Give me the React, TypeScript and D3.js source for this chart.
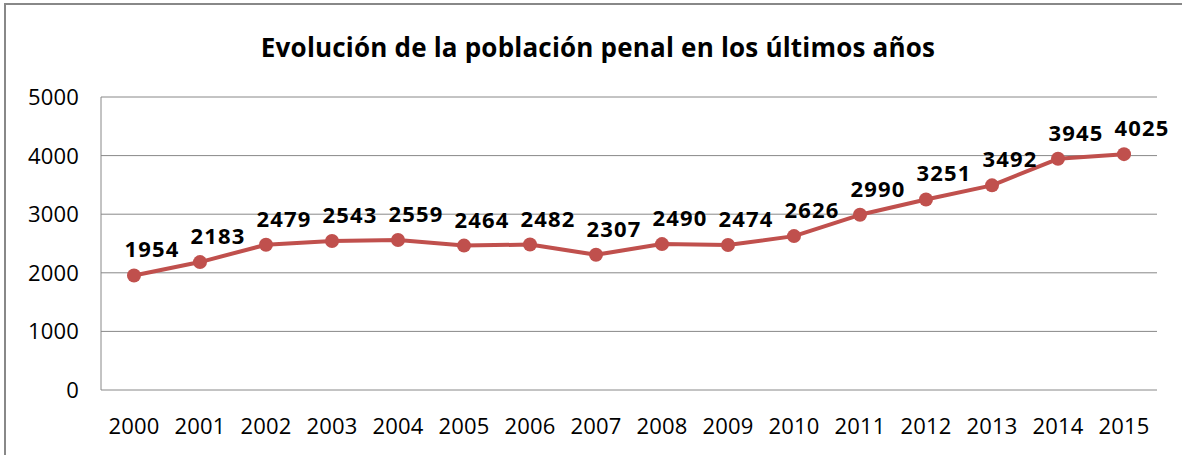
import * as d3 from 'd3';

const years = [
  '2000', '2001', '2002', '2003', '2004', '2005', '2006', '2007',
  '2008', '2009', '2010', '2011', '2012', '2013', '2014', '2015',
];
const population = [
  1954, 2183, 2479, 2543, 2559, 2464, 2482, 2307,
  2490, 2474, 2626, 2990, 3251, 3492, 3945, 4025,
];
const yTicks = [0, 1000, 2000, 3000, 4000, 5000];
const title = 'Evolución de la población penal en los últimos años';

const W = 1182;
const H = 455;
const plot = { left: 101, right: 1157, top: 97, bottom: 390 };
const lineColor = '#C0504D';
const gridColor = '#888888';
const font = '"Open Sans", "Liberation Sans", sans-serif';

export default function App() {
  const x = d3
    .scaleBand<string>()
    .domain(years)
    .range([plot.left, plot.right])
    .padding(0);
  const y = d3.scaleLinear().domain([0, 5000]).range([plot.bottom, plot.top]);
  const cx = (yr: string) => (x(yr) ?? 0) + x.bandwidth() / 2;

  const points = years.map((yr, i) => ({ yr, v: population[i] }));

  const line = d3
    .line<{ yr: string; v: number }>()
    .x((d) => cx(d.yr))
    .y((d) => y(d.v));

  return (
    <svg
      width={W}
      height={H}
      style={{ position: 'absolute', left: 0, top: 0, background: '#fff' }}
    >
      {/* chart frame, cropped on the right and bottom */}
      <rect x={5} y={4} width={W + 20} height={H + 20} fill="#fff" stroke={gridColor} strokeWidth={2} />

      <text
        x={598}
        y={57}
        textAnchor="middle"
        fontFamily={font}
        fontWeight="bold"
        fontSize={26}
        letterSpacing={0.2}
        fill="#000"
      >
        {title}
      </text>

      {/* gridlines + y labels */}
      {yTicks.map((t) => (
        <g key={t}>
          <line x1={plot.left} x2={plot.right} y1={y(t)} y2={y(t)} stroke={gridColor} strokeWidth={1} />
          <text
            x={79}
            y={y(t)}
            dy="0.36em"
            textAnchor="end"
            fontFamily={font}
            fontSize={22}
            letterSpacing={0.2}
            fill="#000"
          >
            {t}
          </text>
        </g>
      ))}
      <line x1={plot.left} x2={plot.left} y1={plot.top} y2={plot.bottom} stroke={gridColor} strokeWidth={1} />

      {/* x labels */}
      {years.map((yr) => (
        <text
          key={yr}
          x={cx(yr)}
          y={434}
          textAnchor="middle"
          fontFamily={font}
          fontSize={22}
          letterSpacing={0.2}
          fill="#000"
        >
          {yr}
        </text>
      ))}

      <path d={line(points) ?? ''} fill="none" stroke={lineColor} strokeWidth={4} strokeLinejoin="round" />
      {points.map((d) => (
        <circle key={d.yr} cx={cx(d.yr)} cy={y(d.v)} r={7} fill={lineColor} />
      ))}

      {/* data labels */}
      {points.map((d) => (
        <text
          key={`l${d.yr}`}
          x={cx(d.yr) + 18}
          y={y(d.v) - 18}
          textAnchor="middle"
          fontFamily={font}
          fontWeight="bold"
          fontSize={22}
          letterSpacing={1.2}
          fill="#000"
        >
          {d.v}
        </text>
      ))}
    </svg>
  );
}
